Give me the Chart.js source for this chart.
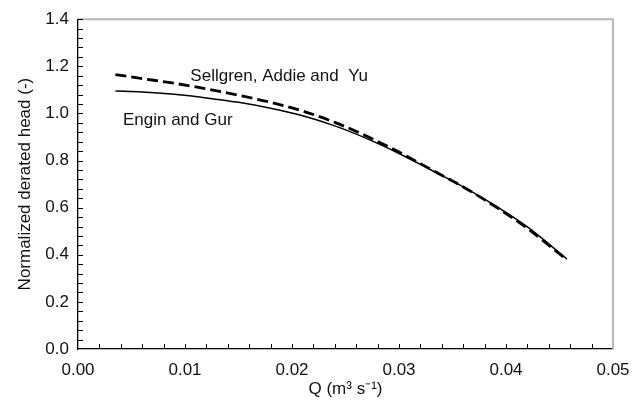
<!DOCTYPE html>
<html>
<head>
<meta charset="utf-8">
<script src="https://cdn.jsdelivr.net/npm/chart.js@4"></script>
<style>
  html, body { margin: 0; padding: 0; background: #fff; }
  #wrap { width: 641px; height: 409px; }
</style>
</head>
<body>
<div id="wrap"><canvas id="chart" width="641" height="409"></canvas></div>
<script>
// flow rate Q (m3/s)
const qValues = [0.0035, 0.006, 0.009, 0.012, 0.015, 0.018, 0.021, 0.024, 0.027, 0.030, 0.033, 0.036, 0.039, 0.042, 0.0457]
// Engin and Gur (solid)
const enginGur = [1.095, 1.091, 1.081, 1.066, 1.047, 1.022, 0.990, 0.947, 0.893, 0.830, 0.760, 0.688, 0.608, 0.518, 0.382]
// Sellgren, Addie and Yu (dashed)
const sellgren = [1.165, 1.148, 1.128, 1.104, 1.077, 1.047, 1.010, 0.962, 0.903, 0.836, 0.762, 0.688, 0.605, 0.512, 0.378]

const xTickLabels = ['0.00', '0.01', '0.02', '0.03', '0.04', '0.05']
const yTickLabels = ['0.0', '0.2', '0.4', '0.6', '0.8', '1.0', '1.2', '1.4']

const FONT = "'Liberation Sans', Arial, sans-serif"
const SIZE = 17

function pts(xs, ys) {
    return xs.map((q, i) => ({ x: q, y: ys[i] }))
}

// inward ticks, grey top/right frame and the curve labels
const framePlugin = {
    id: 'frame',
    afterDraw(chart) {
        const { ctx, chartArea: a, scales: { x, y } } = chart
        ctx.save()
        ctx.strokeStyle = '#b8b8b8'
        ctx.lineWidth = 2
        ctx.beginPath()
        ctx.moveTo(a.left, a.top)
        ctx.lineTo(a.right, a.top)
        ctx.lineTo(a.right, a.bottom)
        ctx.stroke()

        ctx.strokeStyle = '#000'
        ctx.lineWidth = 1
        ctx.beginPath()
        for (let v = 0.002; v < 0.05; v += 0.002) {
            const px = Math.round(x.getPixelForValue(v)) + 0.5
            ctx.moveTo(px, a.bottom)
            ctx.lineTo(px, a.bottom - 5)
        }
        for (let v = 0.04; v < 1.4 + 1e-9; v += 0.04) {
            const py = Math.round(y.getPixelForValue(v)) + 0.5
            ctx.moveTo(a.left, py)
            ctx.lineTo(a.left + 5, py)
        }
        ctx.stroke()

        ctx.fillStyle = '#111'
        ctx.font = SIZE + 'px ' + FONT
        ctx.textBaseline = 'middle'
        ctx.textAlign = 'left'
        ctx.fillText('Sellgren, Addie and  Yu', x.getPixelForValue(0.0105), y.getPixelForValue(1.158))
        ctx.fillText('Engin and Gur', x.getPixelForValue(0.0042), y.getPixelForValue(0.970))
        ctx.restore()
    }
}

const ctx = document.getElementById('chart').getContext('2d')
const chart = new Chart(ctx, {
    type: 'scatter',
    data: {
        datasets: [{
            label: 'Sellgren, Addie and Yu',
            data: pts(qValues, sellgren),
            showLine: true,
            borderColor: '#000',
            borderWidth: 2.8,
            borderDash: [11, 5],
            pointRadius: 0,
            cubicInterpolationMode: 'monotone',
        }, {
            label: 'Engin and Gur',
            data: pts(qValues, enginGur),
            showLine: true,
            borderColor: '#000',
            borderWidth: 1.5,
            pointRadius: 0,
            cubicInterpolationMode: 'monotone',
        }]
    },
    options: {
        responsive: false,
        animation: false,
        layout: { padding: { left: 15, right: 28, top: 19, bottom: 0 } },
        plugins: {
            legend: { display: false },
            tooltip: { enabled: false },
        },
        scales: {
            x: {
                type: 'linear',
                min: 0,
                max: 0.05,
                afterFit(scale) { scale.height = 60 },
                border: { display: true, color: '#000', width: 1.3 },
                grid: { display: false, drawTicks: false },
                ticks: {
                    stepSize: 0.01,
                    color: '#111',
                    padding: 11,
                    font: { family: FONT, size: SIZE },
                    callback: (v) => xTickLabels[Math.round(v * 100)],
                },
                title: {
                    display: true,
                    text: 'Q (m³ s⁻¹)',
                    color: '#111',
                    font: { family: FONT, size: SIZE },
                    padding: { top: 2, bottom: 9 },
                },
            },
            y: {
                type: 'linear',
                min: 0,
                max: 1.4,
                afterFit(scale) { scale.width = 63 },
                border: { display: true, color: '#000', width: 1.3 },
                grid: { display: false, drawTicks: false },
                ticks: {
                    stepSize: 0.2,
                    color: '#111',
                    padding: 9,
                    font: { family: FONT, size: SIZE },
                    callback: (v) => yTickLabels[Math.round(v * 5)],
                },
                title: {
                    display: true,
                    text: 'Normalized derated head (-)',
                    color: '#111',
                    font: { family: FONT, size: SIZE },
                    padding: { top: 0, bottom: 4 },
                },
            },
        },
    },
    plugins: [framePlugin],
})
</script>
</body>
</html>
